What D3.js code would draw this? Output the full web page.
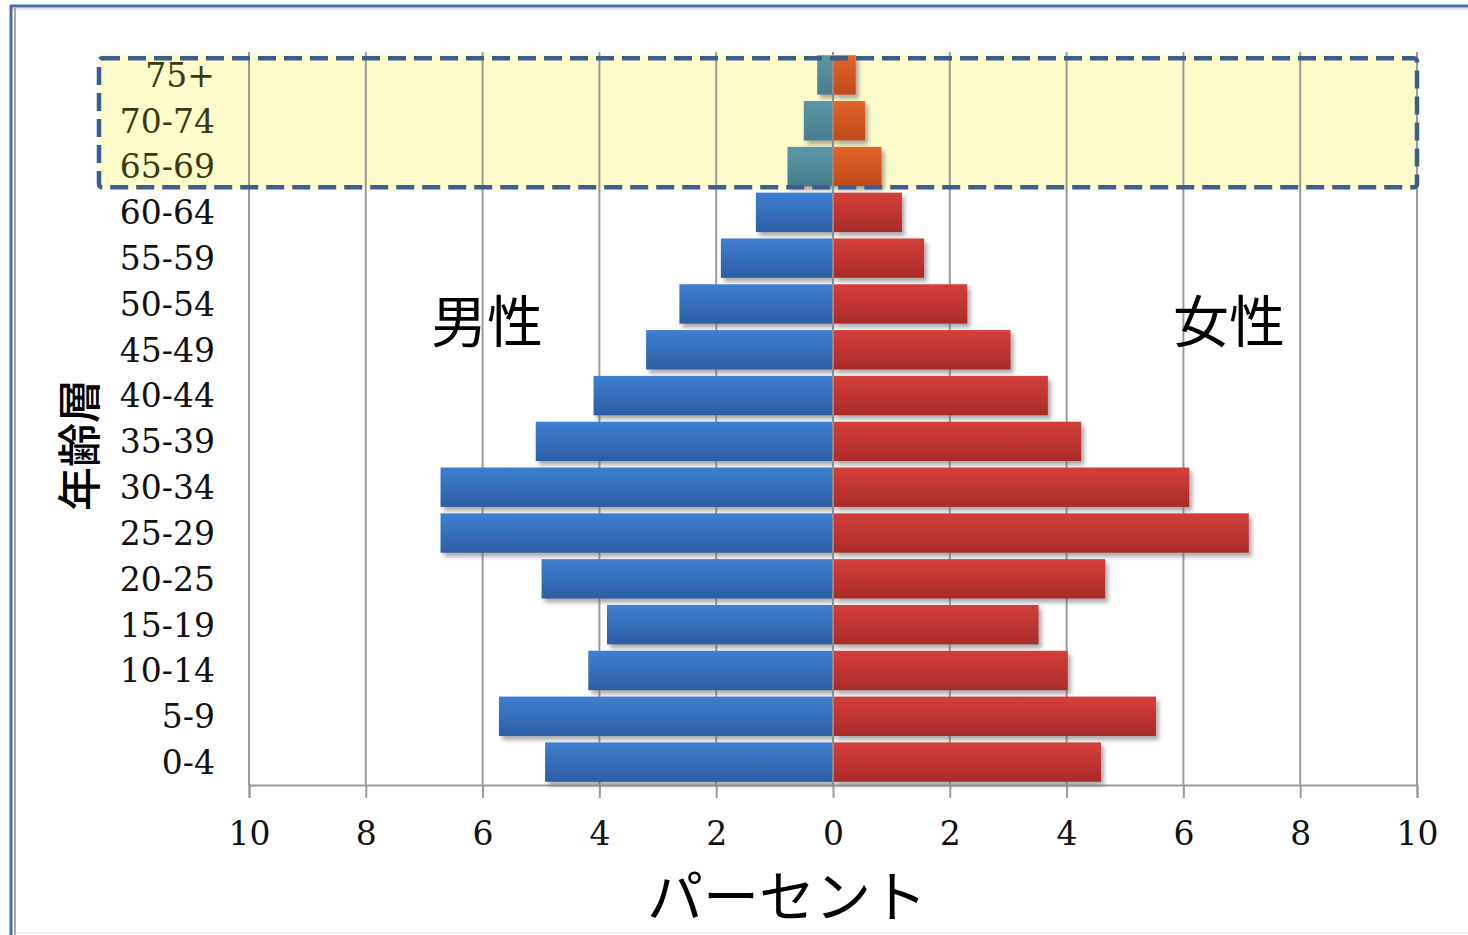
<!DOCTYPE html>
<html>
<meta charset="utf-8">
<script src="https://d3js.org/d3.v7.min.js"></script>
<style>
  body { margin: 0; background: #fff; }
  .jp { font-family: "Noto Sans CJK JP", sans-serif; fill: #000; }
</style>
<body>
<div id="chart"></div>
<script>

// age groups, top to bottom
var ageGroups = ["75+", "70-74", "65-69", "60-64", "55-59", "50-54", "45-49", "40-44",
                 "35-39", "30-34", "25-29", "20-25", "15-19", "10-14", "5-9", "0-4"];

// percent of population
var maleValues   = [0.27, 0.50, 0.78, 1.32, 1.92, 2.63, 3.20, 4.10, 5.09, 6.72, 6.72, 4.99, 3.87, 4.19, 5.72, 4.93];
var femaleValues = [0.39, 0.55, 0.83, 1.18, 1.56, 2.30, 3.04, 3.68, 4.25, 6.10, 7.12, 4.66, 3.52, 4.02, 5.53, 4.59];

// the groups inside the yellow dashed box
var highlightGroups = ["75+", "70-74", "65-69"];

var tickValues = [-10, -8, -6, -4, -2, 0, 2, 4, 6, 8, 10];

var W = 1468, H = 935;

var svg = d3.select("#chart")
    .append("svg")
        .attr("width", W)
        .attr("height", H);

var defs = svg.append("defs");

// gradients for bars
function grad(id, top, bottom) {
    var g = defs.append("linearGradient")
        .attr("id", id)
        .attr("x1", 0).attr("y1", 0).attr("x2", 0).attr("y2", 1);
    g.append("stop").attr("offset", "0%").attr("stop-color", top);
    g.append("stop").attr("offset", "100%").attr("stop-color", bottom);
}
grad("gMale", "#3d7fd2", "#2c5ea4");
grad("gFemale", "#d43f3a", "#a92b2a");
grad("gMaleHi", "#5b97a8", "#467d8e");
grad("gFemaleHi", "#e2652a", "#bf4a1a");

defs.append("filter")
    .attr("id", "shadow")
    .attr("x", "-5%").attr("y", "-20%").attr("width", "115%").attr("height", "150%")
  .append("feDropShadow")
    .attr("dx", 3).attr("dy", 4)
    .attr("stdDeviation", 2)
    .attr("flood-color", "#666")
    .attr("flood-opacity", 0.55);

//-----------//
//   Frame   //
//-----------//
svg.append("line")
    .attr("x1", 10).attr("x2", W).attr("y1", 6).attr("y2", 6)
    .attr("stroke", "#4a6ea3").attr("stroke-width", 3);
svg.append("line")
    .attr("x1", 10).attr("x2", W).attr("y1", 9).attr("y2", 9)
    .attr("stroke", "#c8c8c8").attr("stroke-width", 1);
svg.append("line")
    .attr("x1", 11).attr("x2", 11).attr("y1", 5).attr("y2", H)
    .attr("stroke", "#4a6ea3").attr("stroke-width", 3);
svg.append("line")
    .attr("x1", 15).attr("x2", 15).attr("y1", 8).attr("y2", H)
    .attr("stroke", "#a8a8a8").attr("stroke-width", 2);
svg.append("line")
    .attr("x1", 15).attr("x2", W).attr("y1", 933).attr("y2", 933)
    .attr("stroke", "#e4e4e4").attr("stroke-width", 1);

//-----------//
//   Scales  //
//-----------//
var x = d3.scaleLinear()
    .domain([-10, 10])
    .range([249, 1417]);

var y = d3.scaleBand()
    .domain(ageGroups)
    .range([52, 785])
    .paddingInner(0.14)
    .paddingOuter(0.07);

// highlight box background
var hiTop = y(highlightGroups[0]) - 1;
var hiBottom = y(highlightGroups[highlightGroups.length - 1]) + y.bandwidth() + 3;
svg.append("rect")
    .attr("x", 99).attr("y", hiTop)
    .attr("width", x(10) - 99).attr("height", hiBottom - hiTop)
    .attr("fill", "#fefccb");

// vertical grid lines
svg.append("g")
    .selectAll("line")
    .data(tickValues)
    .enter()
    .append("line")
        .attr("x1", function(d){ return x(d); })
        .attr("x2", function(d){ return x(d); })
        .attr("y1", 52)
        .attr("y2", 785)
        .attr("stroke", "#9a9a9a")
        .attr("stroke-width", 2);

// X axis
var xAxis = svg.append("g")
    .attr("transform", "translate(0," + 785 + ")")
    .call(d3.axisBottom(x)
        .tickValues(tickValues)
        .tickSize(13)
        .tickFormat(function(d){ return Math.abs(d); }));
xAxis.select(".domain").attr("stroke", "#9a9a9a").attr("stroke-width", 2);
xAxis.selectAll(".tick line").attr("stroke", "#9a9a9a").attr("stroke-width", 2);
xAxis.selectAll(".tick text")
    .attr("y", 37)
    .attr("dy", "0.71em")
    .style("font-size", "33px")
    .style("font-family", "'DejaVu Serif', serif")
    .attr("fill", "#111");

//-----------//
//   Bars    //
//-----------//
var isHi = function(g){ return highlightGroups.indexOf(g) >= 0; };

var rows = ageGroups.map(function(g, i){
    return { group: g, male: maleValues[i], female: femaleValues[i] };
});

var bars = svg.append("g").attr("filter", "url(#shadow)");

bars.selectAll(".male")
    .data(rows)
    .enter()
    .append("rect")
        .attr("class", "male")
        .attr("x", function(d){ return x(-d.male); })
        .attr("y", function(d){ return y(d.group); })
        .attr("width", function(d){ return x(0) - x(-d.male) - 1; })
        .attr("height", y.bandwidth())
        .attr("fill", function(d){ return isHi(d.group) ? "url(#gMaleHi)" : "url(#gMale)"; });

bars.selectAll(".female")
    .data(rows)
    .enter()
    .append("rect")
        .attr("class", "female")
        .attr("x", x(0) + 1)
        .attr("y", function(d){ return y(d.group); })
        .attr("width", function(d){ return x(d.female) - x(0) - 1; })
        .attr("height", y.bandwidth())
        .attr("fill", function(d){ return isHi(d.group) ? "url(#gFemaleHi)" : "url(#gFemale)"; });

// zero line over bars
svg.append("line")
    .attr("x1", x(0)).attr("x2", x(0))
    .attr("y1", 52).attr("y2", 785)
    .attr("stroke", "#8f8f8f").attr("stroke-width", 1.5);

// age labels
svg.append("g")
    .selectAll("text")
    .data(ageGroups)
    .enter()
    .append("text")
        .attr("x", 215)
        .attr("y", function(d){ return y(d) + y.bandwidth() / 2; })
        .attr("dy", "0.36em")
        .attr("text-anchor", "end")
        .style("font-family", "'DejaVu Serif', serif")
        .style("font-size", "33px")
        .attr("fill", function(d){ return isHi(d) ? "#3a3a12" : "#111"; })
        .text(function(d){ return d; });

// dashed border of highlight box
svg.append("rect")
    .attr("x", 99).attr("y", hiTop + 4)
    .attr("width", x(10) - 99).attr("height", hiBottom - hiTop - 6)
    .attr("rx", 3)
    .attr("fill", "none")
    .attr("stroke", "#3b5e8e")
    .attr("stroke-width", 4.5)
    .attr("stroke-dasharray", "18,8");

//-----------//
//   Texts   //
//-----------//
svg.append("text")
    .attr("class", "jp")
    .attr("x", 487).attr("y", 322)
    .attr("dy", "0.36em")
    .attr("text-anchor", "middle")
    .style("font-size", "56px")
    .text("男性");

svg.append("text")
    .attr("class", "jp")
    .attr("x", 1229).attr("y", 322)
    .attr("dy", "0.36em")
    .attr("text-anchor", "middle")
    .style("font-size", "56px")
    .text("女性");

svg.append("text")
    .attr("class", "jp")
    .attr("transform", "translate(80,445) rotate(-90)")
    .attr("dy", "0.36em")
    .attr("text-anchor", "middle")
    .style("font-size", "44px")
    .style("font-weight", 500)
    .text("年齢層");

svg.append("text")
    .attr("class", "jp")
    .attr("x", 787).attr("y", 897)
    .attr("dy", "0.36em")
    .attr("text-anchor", "middle")
    .style("font-size", "56px")
    .text("パーセント");

</script>
</body>
</html>
